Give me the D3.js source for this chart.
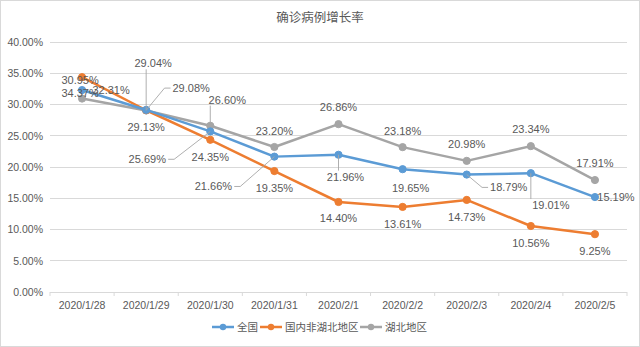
<!DOCTYPE html>
<html><head><meta charset="utf-8">
<script src="https://cdn.jsdelivr.net/npm/d3@7"></script>
<style>
html,body{margin:0;padding:0;background:#fff;}
text{font-family:"Liberation Sans",Arial,sans-serif;fill:#595959;}
.cjk{font-family:"Noto Sans CJK SC",sans-serif;}
</style></head>
<body><svg id="c" width="640" height="347"></svg>
<script>
const categories = ["2020/1/28","2020/1/29","2020/1/30","2020/1/31","2020/2/1","2020/2/2","2020/2/3","2020/2/4","2020/2/5"];
const seriesNames = ["全国","国内非湖北地区","湖北地区"];
const national = [32.31,29.13,25.69,21.66,21.96,19.65,18.79,19.01,15.19];
const nonHubei = [34.37,29.08,24.35,19.35,14.40,13.61,14.73,10.56,9.25];
const hubei = [30.95,29.04,26.60,23.20,26.86,23.18,20.98,23.34,17.91];
const yTicks = [0,5,10,15,20,25,30,35,40];

// label layout offsets (pixels, relative to point) and leader flags
const labelOffsets = [
  [[29,0,0],[0,17,0],[-63,28,1],[-61,30,1],[7,22,1],[8,19,0],[42,13,1],[20,32,1],[21,0,0]],
  [[-2,16,0],[45,-22,1],[0,17,0],[0,17,0],[0,16,0],[0,17,0],[0,17,0],[0,17,0],[0,17,0]],
  [[-2,-18,0],[7,-47,1],[17,-26,1],[0,-16,0],[0,-17,0],[0,-16,0],[0,-17,0],[0,-17,0],[0,-17,0]]
];
const colors = ["#5B9BD5","#ED7D31","#A5A5A5"];
const seriesValues = [national, nonHubei, hubei];

const svg = d3.select("#c");
svg.append("rect").attr("x",0.5).attr("y",0.5).attr("width",639).attr("height",346)
  .attr("fill","#fff").attr("stroke","#D9D9D9");

svg.append("text").attr("class","cjk").attr("x",320).attr("y",22).attr("text-anchor","middle")
  .style("font-size","12.5px").text("确诊病例增长率");

const x = d3.scaleBand().domain(categories).range([50,627]);
const y = d3.scaleLinear().domain([0,40]).range([292,42]);
const cx = c => x(c) + x.bandwidth()/2;

// grid
svg.append("g").selectAll("line").data(yTicks.filter(t=>t>0)).join("line")
  .attr("x1",50).attr("x2",627).attr("y1",d=>y(d)).attr("y2",d=>y(d))
  .attr("stroke","#D9D9D9").attr("stroke-width",1).attr("shape-rendering","crispEdges");

// y axis
const yAxis = d3.axisLeft(y).tickValues(yTicks).tickFormat(d=>d.toFixed(2)+"%").tickSize(0).tickPadding(7);
const gy = svg.append("g").attr("transform","translate(50,0)").call(yAxis);
gy.select(".domain").remove();
gy.selectAll("text").style("font-size","10.5px").style("fill","#595959").style("font-family","Liberation Sans, Arial, sans-serif");

// x axis
const xAxis = d3.axisBottom(x).tickSize(4).tickPadding(6);
const gx = svg.append("g").attr("transform","translate(0,292)").call(xAxis);
gx.select(".domain").attr("stroke","#D9D9D9").attr("d","M50,0.5H627");
gx.selectAll(".tick line").remove();
svg.append("g").selectAll("line").data(d3.range(categories.length+1)).join("line")
  .attr("x1",i=>50+i*x.step()).attr("x2",i=>50+i*x.step()).attr("y1",292).attr("y2",296)
  .attr("stroke","#D9D9D9");
gx.selectAll("text").style("font-size","10.5px").style("fill","#595959").style("font-family","Liberation Sans, Arial, sans-serif");

// lines
const line = d3.line().x((d,i)=>cx(categories[i])).y(d=>y(d));
const order = [2,1,0];
const labelLayer = svg.append("g");
const leaderLayer = svg.insert("g", null);
order.forEach(s=>{
  const g = svg.append("g");
  g.append("path").datum(seriesValues[s]).attr("d",line).attr("fill","none")
    .attr("stroke",colors[s]).attr("stroke-width",2.5).attr("stroke-linejoin","round");
  g.selectAll("circle").data(seriesValues[s]).join("circle")
    .attr("cx",(d,i)=>cx(categories[i])).attr("cy",d=>y(d)).attr("r",3.6)
    .attr("fill",colors[s]).attr("stroke",colors[s]);
});
const leaders = svg.append("g");
const labels = svg.append("g");
[0,1,2].forEach(s=>{
  seriesValues[s].forEach((v,i)=>{
    const px = cx(categories[i]), py = y(v);
    const [dx,dy,lead] = labelOffsets[s][i];
    const t = labels.append("text").attr("x",px+dx).attr("y",py+dy).attr("dy","0.35em")
      .attr("text-anchor","middle").style("font-size","11px").text(v.toFixed(2)+"%");
    if(lead){
      const b = t.node().getBBox();
      const x0=b.x-2,x1=b.x+b.width+2,y0=b.y,y1=b.y+b.height;
      const nx = Math.max(x0,Math.min(px,x1)), ny = Math.max(y0,Math.min(py,y1));
      let d;
      if(nx===x0 || nx===x1){
        const ey = (y0+y1)/2;
        const ex = nx===x0 ? x0 : x1;
        const elx = nx===x0 ? ex-6 : ex+6;
        d = `M${px},${py}L${elx},${ey}L${ex},${ey}`;
      } else {
        d = `M${px},${py}L${nx},${ny}`;
      }
      leaders.append("path").attr("d",d).attr("fill","none").attr("stroke","#A6A6A6").attr("stroke-width",0.9);
    }
  });
});

// legend
const legendItems = [
  {name:seriesNames[0], c:colors[0], x:212},
  {name:seriesNames[1], c:colors[1], x:260},
  {name:seriesNames[2], c:colors[2], x:360}
];
const lg = svg.append("g");
legendItems.forEach(it=>{
  lg.append("line").attr("x1",it.x).attr("x2",it.x+22).attr("y1",327).attr("y2",327)
    .attr("stroke",it.c).attr("stroke-width",2.5);
  lg.append("circle").attr("cx",it.x+11).attr("cy",327).attr("r",3.2).attr("fill",it.c);
  lg.append("text").attr("class","cjk").attr("x",it.x+25).attr("y",327).attr("dy","0.35em")
    .style("font-size","10.5px").text(it.name);
});
</script></body></html>
